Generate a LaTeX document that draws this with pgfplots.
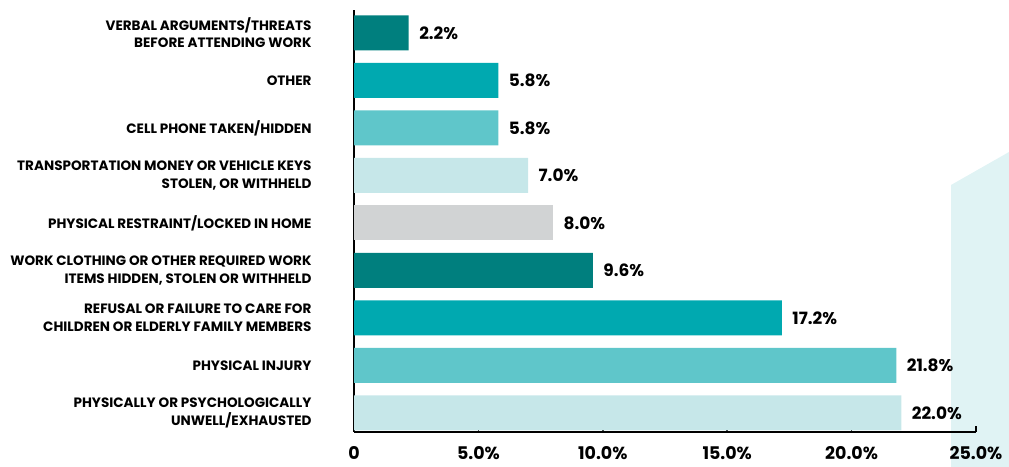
\documentclass[border=0pt]{standalone}
\usepackage{fontspec}
\setmainfont{Poppins}
\usepackage{pgfplots}
\pgfplotsset{compat=1.18}
\definecolor{c1}{HTML}{007F7E}
\definecolor{c2}{HTML}{00A9B0}
\definecolor{c3}{HTML}{5FC6CA}
\definecolor{c4}{HTML}{C6E7E9}
\definecolor{c5}{HTML}{D1D3D4}
\definecolor{bgc}{HTML}{E0F3F4}
\begin{document}
\begin{tikzpicture}[x=1bp,y=1bp]
\useasboundingbox (0,0) rectangle (1009,467);
\fill[bgc] (951,282) -- (1009,315) -- (1009,0) -- (951,0) -- cycle;
\begin{axis}[
 at={(354bp,35bp)}, anchor=south west,
 scale only axis, width=622bp, height=422bp,
 xbar, bar width=35bp, bar shift=0pt,
 xmin=0, xmax=25, ymin=-0.4, ymax=8.48,
 clip=false,
 axis x line*=bottom, axis y line*=left,
 axis line style={black, line width=1.5bp, -},
 xtick={0,5,...,25},
 xticklabels={0,5.0\%,10.0\%,15.0\%,20.0\%,25.0\%},
 xtick style={black, line width=1.5bp},
 tick align=inside, major tick length=6bp,
 xticklabel style={font=\fontsize{17.5}{19}\selectfont\bfseries, yshift=-11bp},
 ytick={0,...,8},
 yticklabels={
  {PHYSICALLY OR PSYCHOLOGICALLY\\UNWELL/EXHAUSTED},
  {PHYSICAL INJURY},
  {REFUSAL OR FAILURE TO CARE FOR\\CHILDREN OR ELDERLY FAMILY MEMBERS},
  {WORK CLOTHING OR OTHER REQUIRED WORK\\ITEMS HIDDEN, STOLEN OR WITHHELD},
  {PHYSICAL RESTRAINT/LOCKED IN HOME},
  {TRANSPORTATION MONEY OR VEHICLE KEYS\\STOLEN, OR WITHHELD},
  {CELL PHONE TAKEN/HIDDEN},
  {OTHER},
  {VERBAL ARGUMENTS/THREATS\\BEFORE ATTENDING WORK}},
 ytick style={draw=none},
 yticklabel style={font=\fontsize{13.6}{17.5}\selectfont\bfseries, align=right, xshift=-39bp},
 nodes near coords={\pgfmathprintnumber[fixed,fixed zerofill,precision=1,assume math mode=true]{\pgfplotspointmeta}\%},
 nodes near coords style={font=\fontsize{17}{18}\selectfont\bfseries, anchor=west, xshift=7bp, black},
]
\addplot[fill=c1, draw=none] coordinates {(2.2,8) (9.6,3)};
\addplot[fill=c2, draw=none] coordinates {(5.8,7) (17.2,2)};
\addplot[fill=c3, draw=none] coordinates {(5.8,6) (21.8,1)};
\addplot[fill=c4, draw=none] coordinates {(7.0,5) (22.0,0)};
\addplot[fill=c5, draw=none] coordinates {(8.0,4)};
\end{axis}
\end{tikzpicture}
\end{document}
